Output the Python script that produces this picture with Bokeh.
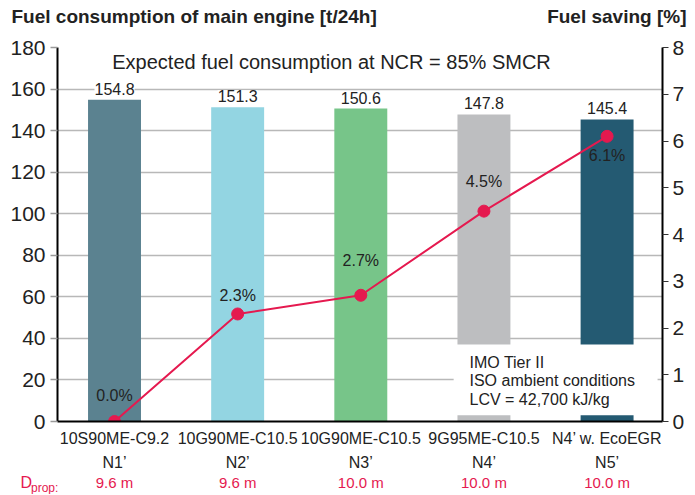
from bokeh.plotting import figure
from bokeh.layouts import column
from bokeh.models import (ColumnDataSource, Range1d, LinearAxis, FixedTicker,
                          Label, LabelSet, BoxAnnotation)
from bokeh.core.properties import value
from bokeh.embed import file_html
from bokeh.resources import INLINE

# ---- data ----
engines = ["10S90ME-C9.2", "10G90ME-C10.5", "10G90ME-C10.5", "9G95ME-C10.5", "N4’ w. EcoEGR"]
cases = ["N1’", "N2’", "N3’", "N4’", "N5’"]
dprop = ["9.6 m", "9.6 m", "10.0 m", "10.0 m", "10.0 m"]
fuel = [154.8, 151.3, 150.6, 147.8, 145.4]
saving = [0.0, 2.3, 2.7, 4.5, 6.1]
left_ticks = [0, 20, 40, 60, 80, 100, 120, 140, 160, 180]
right_ticks = [0, 1, 2, 3, 4, 5, 6, 7, 8]

# ---- styles / layout ----
bar_colors = ["#5b8290", "#93d5e2", "#77c589", "#bdbec0", "#245a72"]
red = "#e5194f"
ink = "#222222"
saving_label_offsets = [26, 18, 35, 30, -19]
FONT = "Liberation Sans"

W = 695
FRAME_W, FRAME_H = 605, 374
BL, BR = 57, 33
X0, X1 = 0.537, 5.45
unit = FRAME_W / (X1 - X0)

pos = list(range(1, len(engines) + 1))

src = ColumnDataSource(dict(
    x=pos, fuel=fuel, fuel_txt=[f"{v:.1f}" for v in fuel], color=bar_colors,
    saving=saving, saving_txt=[f"{v:.1f}%" for v in saving],
    off=saving_label_offsets,
))

# ---------------- header ----------------
hdr = figure(width=W, height=30, x_range=Range1d(0, W), y_range=Range1d(0, 30),
             output_backend="svg", toolbar_location=None, frame_align=False,
             min_border=0, x_axis_location=None, y_axis_location=None)
hdr.outline_line_color = None
hdr.grid.visible = False
hdr.add_layout(Label(x=11, y=14, text="Fuel consumption of main engine [t/24h]",
                     text_font=FONT, text_font_size="19px", text_font_style="bold",
                     text_color=ink, text_baseline="middle", text_align="left"))
hdr.add_layout(Label(x=686, y=14, text="Fuel saving [%]",
                     text_font=FONT, text_font_size="19px", text_font_style="bold",
                     text_color=ink, text_baseline="middle", text_align="right"))

# ---------------- main plot ----------------
p = figure(frame_width=FRAME_W, frame_height=FRAME_H,
           x_range=Range1d(X0, X1), y_range=Range1d(0, 180),
           output_backend="svg", toolbar_location=None, frame_align=False,
           x_axis_location=None, y_axis_location="left",
           min_border_left=BL, min_border_top=17, min_border_right=BR,
           min_border_bottom=50)
p.outline_line_color = None
p.extra_y_ranges = {"pct": Range1d(0, 8)}

p.xgrid.visible = False
p.ygrid.ticker = FixedTicker(ticks=left_ticks)
p.ygrid.grid_line_color = "#b8b8b8"
p.ygrid.grid_line_width = 1.5

ya = p.yaxis[0]
ya.ticker = FixedTicker(ticks=left_ticks)
ya.axis_line_color = "black"
ya.axis_line_width = 2
ya.major_tick_out = 7
ya.major_tick_in = 0
ya.major_tick_line_color = "#999999"
ya.major_tick_line_width = 1.5
ya.minor_tick_line_color = None
ya.major_label_standoff = 5
ya.major_label_text_font = FONT
ya.major_label_text_font_size = "21px"
ya.major_label_text_color = ink

ra = LinearAxis(y_range_name="pct", ticker=FixedTicker(ticks=right_ticks))
ra.axis_line_color = "black"
ra.axis_line_width = 2
ra.major_tick_out = 6
ra.major_tick_in = 0
ra.major_tick_line_color = "#333333"
ra.major_tick_line_width = 1.2
ra.minor_tick_line_color = None
ra.major_label_standoff = 4
ra.major_label_text_font = FONT
ra.major_label_text_font_size = "21px"
ra.major_label_text_color = ink
p.add_layout(ra, "right")

def bottom_axis(labels, standoff, line):
    ax = LinearAxis(ticker=FixedTicker(ticks=pos),
                    major_label_overrides={i: t for i, t in zip(pos, labels)})
    ax.major_tick_line_color = None
    ax.minor_tick_line_color = None
    ax.major_tick_out = 0
    ax.major_tick_in = 0
    ax.major_label_standoff = standoff
    ax.major_label_text_font = FONT
    ax.major_label_text_font_size = "16px"
    ax.major_label_text_color = ink
    if line:
        ax.axis_line_color = "black"
        ax.axis_line_width = 2
    else:
        ax.axis_line_color = None
    p.add_layout(ax, "below")

bottom_axis(engines, 8, True)
bottom_axis(cases, 4, False)

p.vbar(x="x", top="fuel", width=0.43, color="color", source=src, line_color=None)

p.add_layout(LabelSet(x="x", y="fuel", text="fuel_txt", source=src,
                      text_align="center", text_baseline="middle", y_offset=11,
                      text_font=value(FONT), text_font_size="16px", text_color=ink,
                      background_fill_color="white"))

p.add_layout(BoxAnnotation(left=3.754, right=5.41, bottom=3, top=37,
                           fill_color="white", fill_alpha=1.0, line_color=None))

p.line(x="x", y="saving", source=src, y_range_name="pct", line_color=red, line_width=2)
p.scatter(x="x", y="saving", source=src, y_range_name="pct", size=12,
          fill_color=red, line_color=red)
p.add_layout(LabelSet(x="x", y="saving", text="saving_txt", source=src,
                      y_range_name="pct", y_offset="off",
                      text_align="center", text_baseline="middle",
                      text_font=value(FONT), text_font_size="16px", text_color=ink))

def lab(text, x, y, size, align="left"):
    p.add_layout(Label(x=x, y=y, x_units="screen", y_units="screen", text=text,
                       text_font=FONT, text_font_size=size, text_align=align,
                       text_baseline="middle", text_color=ink))

lab("Expected fuel consumption at NCR = 85% SMCR", 274, 360, "20px", align="center")
lab("IMO Tier II", 412, 59, "16px")
lab("ISO ambient conditions", 412, 41, "16px")
lab("LCV = 42,700 kJ/kg", 412, 22, "16px")

# ---------------- footer (propeller diameters) ----------------
FH = 21
ftr = figure(width=W, height=FH,
             x_range=Range1d(X0 - BL / unit, X1 + BR / unit), y_range=Range1d(0, FH),
             output_backend="svg", toolbar_location=None, frame_align=False,
             min_border=0, x_axis_location=None, y_axis_location=None)
ftr.outline_line_color = None
ftr.grid.visible = False
fsrc = ColumnDataSource(dict(x=pos, t=dprop))
ftr.text(x="x", y=FH - 9, text="t", source=fsrc, text_align="center", text_baseline="middle",
         text_font=value(FONT), text_font_size="15px", text_color=red)
d_x = X0 - 37 / unit
ftr.add_layout(Label(x=d_x, y=FH - 9, text="D", text_font=FONT, text_font_size="16px",
                     text_color=red, text_baseline="middle", text_align="left"))
ftr.add_layout(Label(x=d_x + 10.5 / unit, y=FH - 14, text="prop:", text_font=FONT,
                     text_font_size="12px", text_color=red,
                     text_baseline="middle", text_align="left"))

layout = column(hdr, p, ftr, spacing=0)
open("out.html", "w").write(file_html(layout, INLINE))
